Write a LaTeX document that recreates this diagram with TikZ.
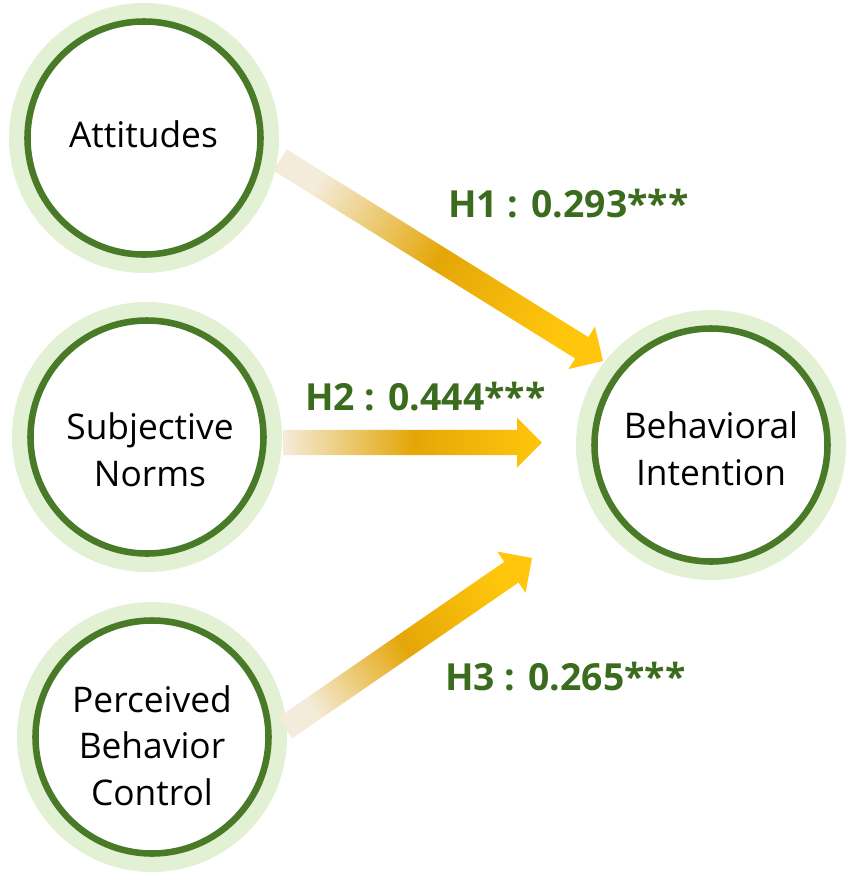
\documentclass[tikz,border=0pt]{standalone}
\usepackage{fontspec}
\setmainfont{Open Sans}
\usetikzlibrary{calc}
\definecolor{ringdark}{RGB}{72,122,40}
\definecolor{ringlight}{RGB}{226,240,212}
\definecolor{labgreen}{RGB}{59,107,28}
\definecolor{arrstart}{RGB}{244,236,218}
\definecolor{arrmid}{RGB}{228,166,8}
\definecolor{arrend}{RGB}{255,198,12}
\newcommand\fatarrow[4]{%
  \coordinate (#3) at ($(#2)!18.75pt!(#1)$);
  \shade[arrowfill, shading angle=#4]
    ($(#1)!9.4pt!90:(#2)$) -- ($(#3)!9.4pt!-90:(#1)$) -- ($(#3)!18.75pt!-90:(#1)$) -- (#2)
    -- ($(#3)!18.75pt!90:(#1)$) -- ($(#3)!9.4pt!90:(#1)$) -- ($(#1)!9.4pt!-90:(#2)$) -- cycle;
}
\begin{document}
\begin{tikzpicture}[x=0.75pt,y=0.75pt,
  halo/.style={circle, fill=ringlight, minimum size=202.5pt, inner sep=0pt},
  ring/.style={circle, draw=ringdark, line width=4.9pt, fill=white, minimum size=174.75pt, inner sep=0pt},
  ctext/.style={font=\fontsize{26.5}{35}\selectfont, align=center, inner sep=0pt, text=black},
  lab/.style={font=\bfseries\fontsize{28}{34}\selectfont, text=labgreen, inner sep=0pt, anchor=base west},
  arrowfill/.style={left color=arrstart, right color=arrend, middle color=arrmid}
]
\useasboundingbox (0,0) rectangle (851,-879);
% circles
\node[halo] (atth) at (144,-138) {};
\node[halo] (snh) at (147,-437) {};
\node[halo] (pbch) at (152,-737) {};
\node[halo] (bih) at (711,-445) {};
\node[ring] (att) at (atth) {};
\node[ring] (sn) at (snh) {};
\node[ring] (pbc) at (pbch) {};
\node[ring] (bi) at (bih) {};
% texts
\node[ctext, anchor=base] (attt) at (143.5,-147) {Attitudes};
\node[ctext] (snt) at (150,-450) {Subjective\\Norms};
\node[ctext] (pbct) at (152,-745.5) {Perceived\\Behavior\\Control};
\node[ctext] (bit) at (711,-449) {Behavioral\\Intention};
% arrow end points
\coordinate (h1s) at ($(att)+(136,-22)$);
\coordinate (h1t) at ($(bi)+(-108,84)$);
\coordinate (h2s) at ($(sn)+(136,-5.5)$);
\coordinate (h2t) at ($(bi)+(-169,2.5)$);
\coordinate (h3s) at ($(pbc)+(133,9)$);
\coordinate (h3t) at ($(bi)+(-179,-113)$);
\fatarrow{h1s}{h1t}{h1b}{58}
\fatarrow{h2s}{h2t}{h2b}{90}
\fatarrow{h3s}{h3t}{h3b}{124.5}
% labels
\node[lab] (l1) at (448,-217) {H1 : 0.293***};
\node[lab] (l2) at (305,-410) {H2 : 0.444***};
\node[lab] (l3) at (445,-690) {H3 : 0.265***};
\end{tikzpicture}
\end{document}
